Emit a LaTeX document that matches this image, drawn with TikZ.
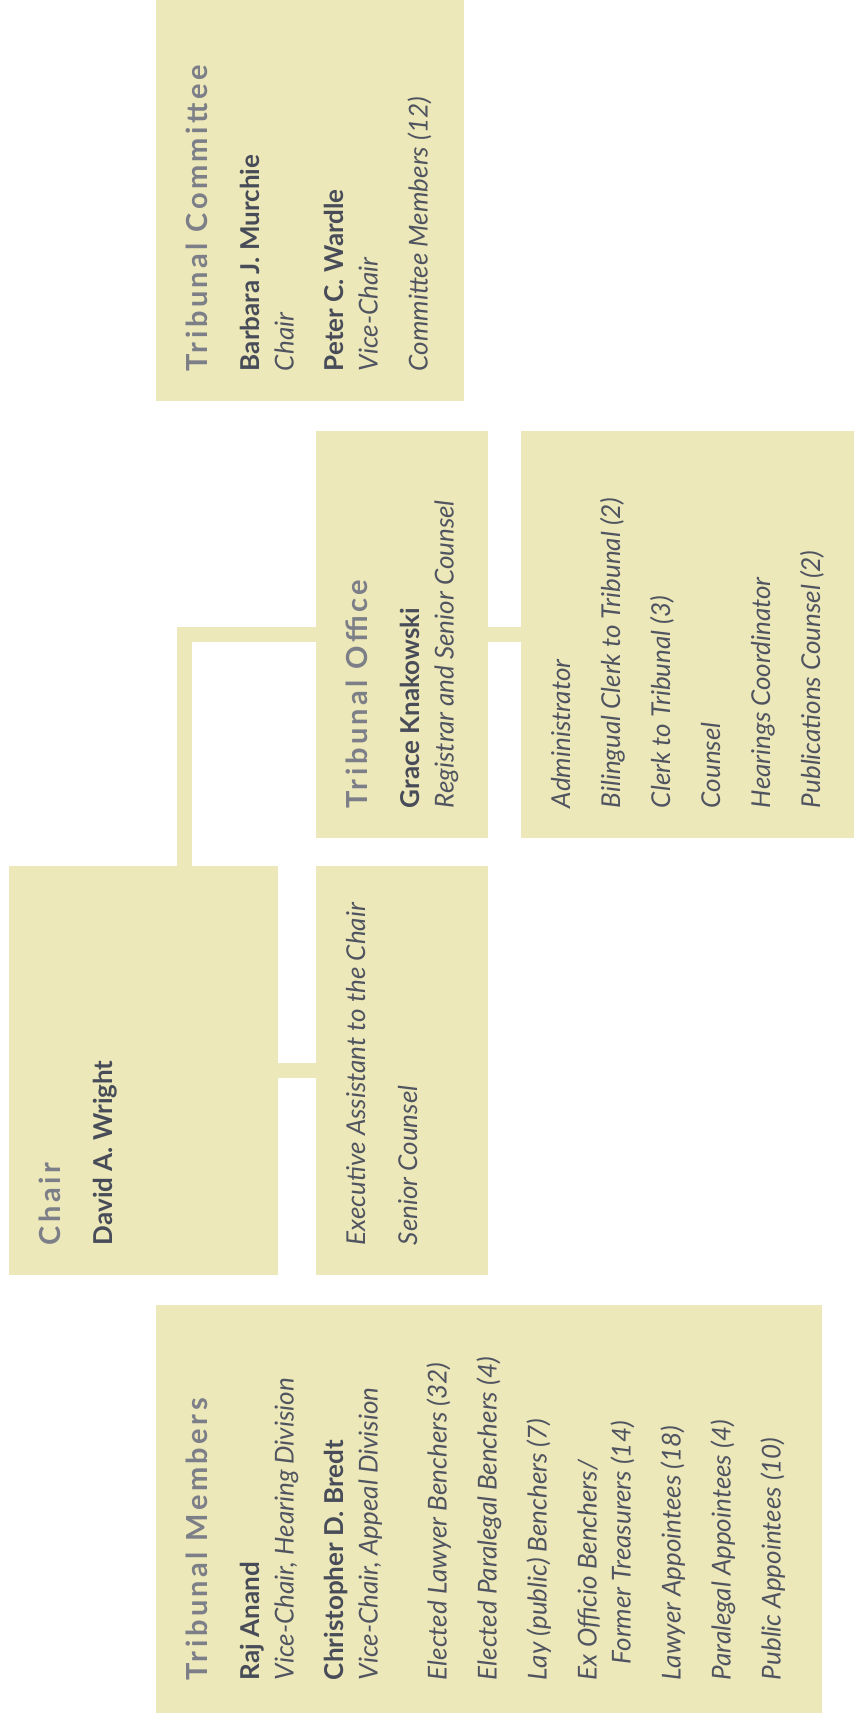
\documentclass[tikz,border=0pt]{standalone}
\usepackage{fontspec}
\setmainfont{Lato}
\newfontfamily\headfont{Lato}[LetterSpace=12]
\usepackage{xcolor}
\definecolor{boxfill}{RGB}{236,232,185}
\definecolor{headgray}{RGB}{124,127,135}
\definecolor{namedark}{RGB}{72,76,88}
\definecolor{roletext}{RGB}{80,84,96}
\newcommand{\orghead}[1]{{\headfont\bfseries\fontsize{14.5}{17}\selectfont\color{headgray}#1}}
\newcommand{\orgname}[1]{{\bfseries\color{namedark}#1}}
\newcommand{\orgrole}[1]{{\itshape #1}}

\begin{document}
\begin{tikzpicture}[x=0.5pt,y=-0.5pt]
  \tikzstyle{unit}=[rectangle, fill=boxfill, draw=none, inner sep=0pt]
  \tikzstyle{blurb}=[rotate=90, anchor=north west, align=left, inner sep=15pt, text=roletext, font=\fontsize{13}{17}\selectfont]
  \tikzstyle{link}=[draw=boxfill, line width=7.5pt]
  \useasboundingbox (0,0) rectangle (854,1720);
  \node[unit, minimum width=154pt, minimum height=200.5pt] (committee) at (310,200.5) {};
  \node[unit, minimum width=86pt, minimum height=203.5pt] (office) at (402,634.5) {};
  \node[unit, minimum width=166.5pt, minimum height=203.5pt] (staff) at (687.5,634.5) {};
  \node[unit, minimum width=134.5pt, minimum height=204.5pt] (chair) at (143.5,1070.5) {};
  \node[unit, minimum width=86pt, minimum height=204.5pt] (assistant) at (402,1070.5) {};
  \node[unit, minimum width=333pt, minimum height=204pt] (members) at (489,1509) {};
  % texts, read bottom to top
  \node[blurb] (committee text) at (committee.south west) {\orghead{Tribunal Committee}\\[9pt]
    \orgname{Barbara J. Murchie}\\ \orgrole{Chair}\\[8pt]
    \orgname{Peter C. Wardle}\\ \orgrole{Vice-Chair}\\[8pt]
    \orgrole{Committee Members (12)}};
  \node[blurb] (office text) at (office.south west) {\orghead{Tribunal Office}\\[9pt]
    \orgname{Grace Knakowski}\\ \orgrole{Registrar and Senior Counsel}};
  \node[blurb] (staff text) at (staff.south west) {\orgrole{Administrator}\\[8pt]
    \orgrole{Bilingual Clerk to Tribunal (2)}\\[8pt]
    \orgrole{Clerk to Tribunal (3)}\\[8pt]
    \orgrole{Counsel}\\[8pt]
    \orgrole{Hearings Coordinator}\\[8pt]
    \orgrole{Publications Counsel (2)}};
  \node[blurb] (chair text) at (chair.south west) {\orghead{Chair}\\[9pt]
    \orgname{David A. Wright}};
  \node[blurb] (assistant text) at (assistant.south west) {\orgrole{Executive Assistant to the Chair}\\[9pt]
    \orgrole{Senior Counsel}};
  \node[blurb] (members text) at ([yshift=1.5pt]members.south west) {\orghead{Tribunal Members}\\[9pt]
    \orgname{Raj Anand}\\ \orgrole{Vice-Chair, Hearing Division}\\[8pt]
    \orgname{Christopher D. Bredt}\\ \orgrole{Vice-Chair, Appeal Division}\\[17.5pt]
    \orgrole{Elected Lawyer Benchers (32)}\\[8pt]
    \orgrole{Elected Paralegal Benchers (4)}\\[8pt]
    \orgrole{Lay (public) Benchers (7)}\\[8pt]
    \orgrole{Ex Officio Benchers/}\\ \hspace*{8pt}\orgrole{Former Treasurers (14)}\\[8pt]
    \orgrole{Lawyer Appointees (18)}\\[8pt]
    \orgrole{Paralegal Appointees (4)}\\[8pt]
    \orgrole{Public Appointees (10)}};
  % connectors
  \coordinate (elbow) at (184.5,634.5);
  \draw[link] (elbow |- chair.north) |- (office.west);
  \draw[link] (office.east) -- (staff.west);
  \draw[link] (chair.east) -- (assistant.west);
\end{tikzpicture}
\end{document}
